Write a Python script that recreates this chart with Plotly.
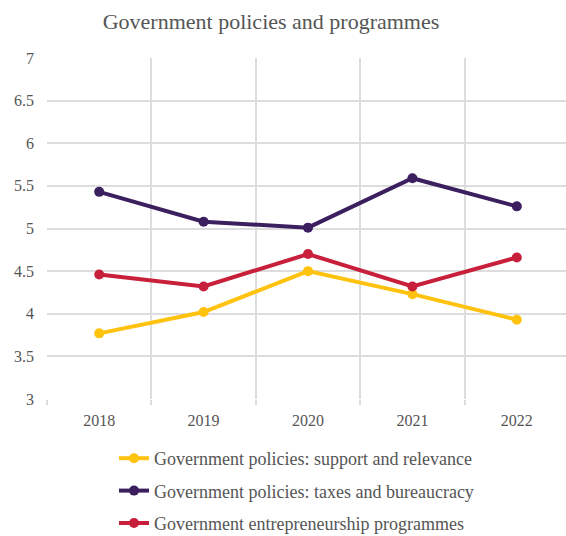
import plotly.graph_objects as go

years = ["2018", "2019", "2020", "2021", "2022"]
support = [3.77, 4.02, 4.50, 4.23, 3.93]
taxes = [5.43, 5.08, 5.01, 5.59, 5.26]
programmes = [4.46, 4.32, 4.70, 4.32, 4.66]

series = [
    ("Government policies: support and relevance", support, "#FFC20E"),
    ("Government policies: taxes and bureaucracy", taxes, "#3C1F5F"),
    ("Government entrepreneurship programmes", programmes, "#C8203A"),
]

FONT = "Liberation Serif"

fig = go.Figure()
for i, (name, vals, col) in enumerate(series):
    fig.add_trace(go.Scatter(
        x=years, y=vals, name=name, mode="lines+markers",
        line=dict(color=col, width=4),
        marker=dict(color=col, size=10),
        legendgroup=f"g{i}",
    ))

fig.update_layout(
    width=566, height=536,
    margin=dict(l=47, r=0, t=58, b=137, autoexpand=False),
    paper_bgcolor="white", plot_bgcolor="white",
    font=dict(family=FONT, color="#555555", size=16),
    title=dict(text="Government policies and programmes", x=271/566, xanchor="center",
               xref="container", y=1-21/536, yanchor="middle", yref="container",
               font=dict(family=FONT, size=22, color="#555555")),
    showlegend=True,
    legend=dict(xref="container", yref="container", x=114/566, xanchor="left",
                y=1-440/536, yanchor="top", font=dict(family=FONT, size=18, color="#555555"),
                tracegroupgap=6, bgcolor="rgba(0,0,0,0)"),
)
fig.update_xaxes(
    type="category", range=[-0.5, 4.4713], tickson="boundaries",
    showgrid=True, gridcolor="#DDDDDD", gridwidth=1.5,
    ticks="outside", ticklen=5, tickcolor="#DDDDDD", tickwidth=1.5,
    showline=False, zeroline=False, tickfont=dict(size=16), ticklabelstandoff=10,
)
fig.update_yaxes(
    range=[3, 7], dtick=0.5, tick0=3,
    showgrid=True, gridcolor="#DDDDDD", gridwidth=1.5,
    showline=False, zeroline=False, ticks="", ticklabelstandoff=12,
    tickfont=dict(size=16),
)

fig.write_html("out.html")
